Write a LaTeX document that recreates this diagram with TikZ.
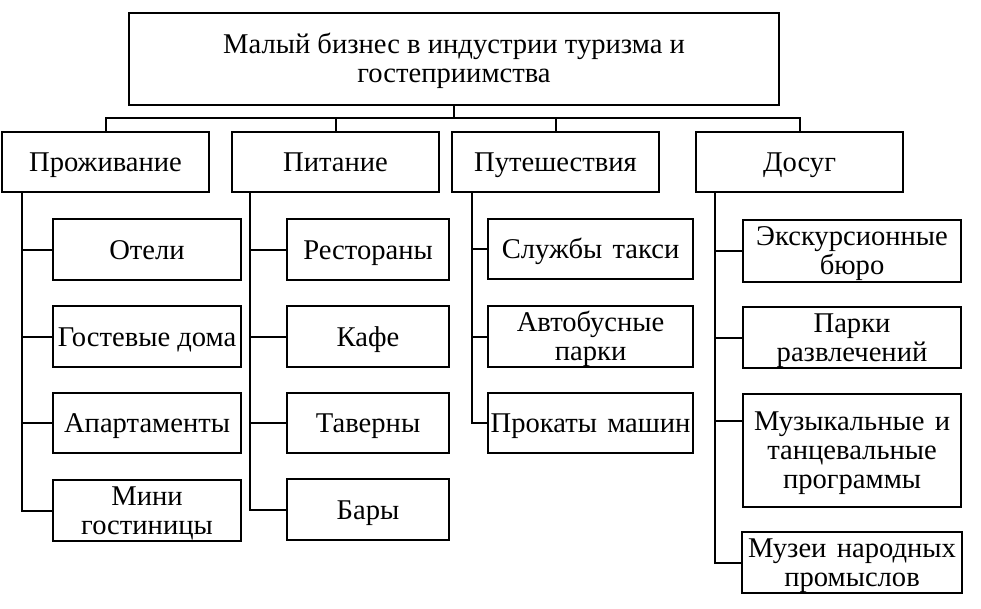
\documentclass[tikz,border=0pt]{standalone}
\usepackage{fontspec}
\setmainfont{Liberation Serif}
\newcommand\boxfont{\fontsize{28.6}{29}\selectfont}
\newcommand\capstrut{\rule{0pt}{24pt}}
\newcommand\descstrut{\rule[-6pt]{0pt}{6pt}}
\newcommand\wsp{\hspace{0.36em}}

\begin{document}
\begin{tikzpicture}[x=1pt,y=-1pt]
	\tikzstyle{every node}+=[inner sep=0pt]
	\tikzstyle{box}=[draw, line width=2.1pt, anchor=north west, align=center, font=\boxfont]
	\tikzstyle{oneline}=[text height=25pt, text depth=6pt]
	\tikzstyle{link}=[line width=2pt]
	\useasboundingbox (0,0) rectangle (981,609);
	% top
	\node [box, minimum width=650, minimum height=92] (top) at (128,12) {\capstrut Малый бизнес в индустрии туризма и\\гостеприимства\descstrut};
	% groups
	\node [box, oneline, minimum width=207, minimum height=60] (prozh) at (1,131) {Проживание};
	\node [box, oneline, minimum width=207, minimum height=60] (pitan) at (231,131) {Питание};
	\node [box, oneline, minimum width=207, minimum height=60] (puti) at (451,131) {Путешествия};
	\node [box, oneline, minimum width=207, minimum height=60] (dosug) at (695,131) {Досуг};
	% Проживание
	\node [box, oneline, minimum width=188, minimum height=61] (oteli) at (52,218) {Отели};
	\node [box, oneline, minimum width=188, minimum height=61] (gost) at (52,305) {Гостевые дома};
	\node [box, oneline, minimum width=188, minimum height=60] (apart) at (52,392) {Апартаменты};
	\node [box, minimum width=188, minimum height=61] (mini) at (52,479) {\capstrut Мини\\гостиницы\descstrut};
	% Питание
	\node [box, oneline, minimum width=162, minimum height=61] (rest) at (286,218) {Рестораны};
	\node [box, oneline, minimum width=162, minimum height=61] (kafe) at (286,305) {Кафе};
	\node [box, oneline, minimum width=162, minimum height=60] (tav) at (286,392) {Таверны};
	\node [box, oneline, minimum width=162, minimum height=61] (bary) at (286,478) {Бары};
	% Путешествия
	\node [box, oneline, minimum width=205, minimum height=60] (taxi) at (487,218) {Службы\wsp такси};
	\node [box, minimum width=205, minimum height=61] (avto) at (487,305) {\capstrut Автобусные\\парки\descstrut};
	\node [box, oneline, minimum width=205, minimum height=60] (prokat) at (487,392) {Прокаты\wsp машин};
	% Досуг
	\node [box, minimum width=218, minimum height=62] (ekskur) at (742,219) {\capstrut Экскурсионные\\бюро\descstrut};
	\node [box, minimum width=218, minimum height=61] (parki) at (742,306) {\capstrut Парки\\развлечений\descstrut};
	\node [box, minimum width=218, minimum height=113] (muz) at (742,393) {\capstrut Музыкальные\wsp и\\танцевальные\\программы\descstrut};
	\node [box, minimum width=220, minimum height=61] (muzei) at (741,531) {\capstrut Музеи\wsp народных\\промыслов\descstrut};
	% bus
	\coordinate (bus) at (454,118);
	\draw [link] (top.south) -- (top.south |- bus);
	\draw [link] (prozh.north) -- (prozh.north |- bus) -- (dosug.north |- bus) -- (dosug.north);
	\draw [link] (pitan.north) -- (pitan.north |- bus);
	\draw [link] (puti.north) -- (puti.north |- bus);
	% trunks
	\coordinate (tA) at ([xshift=21]prozh.south west);
	\coordinate (tB) at ([xshift=19]pitan.south west);
	\coordinate (tC) at ([xshift=21]puti.south west);
	\coordinate (tD) at ([xshift=20]dosug.south west);
	\coordinate (muzin) at ([yshift=-28]muz.north west);
	\draw [link] (tA) |- (mini.west);
	\draw [link] (tA |- oteli.west) -- (oteli.west);
	\draw [link] (tA |- gost.west) -- (gost.west);
	\draw [link] (tA |- apart.west) -- (apart.west);
	\draw [link] (tB) |- (bary.west);
	\draw [link] (tB |- rest.west) -- (rest.west);
	\draw [link] (tB |- kafe.west) -- (kafe.west);
	\draw [link] (tB |- tav.west) -- (tav.west);
	\draw [link] (tC) |- (prokat.west);
	\draw [link] (tC |- taxi.west) -- (taxi.west);
	\draw [link] (tC |- avto.west) -- (avto.west);
	\draw [link] (tD) |- (muzei.west);
	\draw [link] (tD |- ekskur.west) -- (ekskur.west);
	\draw [link] (tD |- parki.west) -- (parki.west);
	\draw [link] (tD |- muzin) -- (muzin);
\end{tikzpicture}
\end{document}
